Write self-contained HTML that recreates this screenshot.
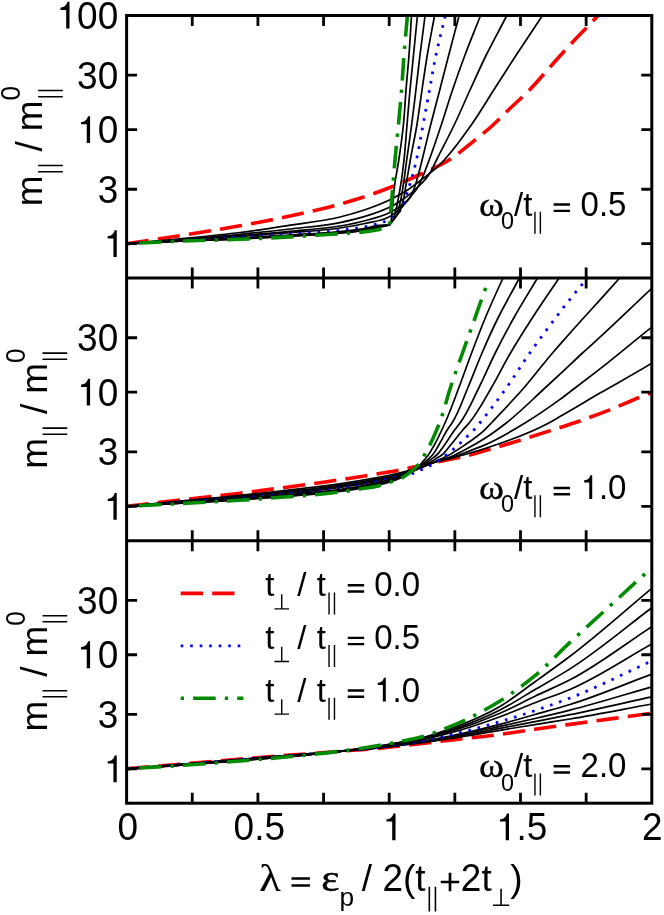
<!DOCTYPE html>
<html><head><meta charset="utf-8"><title>Effective mass</title>
<style>html,body{margin:0;padding:0;background:#fff}svg{display:block;will-change:transform}text{font-family:"Liberation Sans",sans-serif;fill:#000}.s{font-family:"Liberation Serif",serif}</style></head><body>
<svg width="664" height="915" viewBox="0 0 664 915">
<rect width="664" height="915" fill="#fff"/>
<defs>
<clipPath id="c0"><rect x="126.60" y="15.50" width="525.20" height="262.57"/></clipPath>
<clipPath id="c1"><rect x="126.60" y="278.07" width="525.20" height="262.57"/></clipPath>
<clipPath id="c2"><rect x="126.60" y="540.63" width="525.20" height="262.57"/></clipPath>
</defs>
<g clip-path="url(#c0)" fill="none" stroke-linejoin="round">
<path d="M126.60 243.70 C144.40 241.03 162.22 238.49 180.00 235.70 C200.02 232.56 220.05 229.41 240.00 225.80 C256.71 222.78 273.41 219.70 290.00 216.10 C306.75 212.47 323.50 208.71 340.00 204.10 C348.38 201.76 356.74 199.34 365.00 196.60 C373.41 193.81 381.75 190.75 390.00 187.50 C400.13 183.50 410.13 179.10 420.00 174.50 C429.79 169.93 439.90 165.75 449.00 160.00 C456.75 155.10 463.79 149.02 471.00 143.30 C478.47 137.37 485.95 131.42 493.00 125.00 C498.29 120.18 503.24 114.97 508.40 110.00 C515.38 103.28 522.74 96.94 529.50 90.00 C536.82 82.48 543.47 74.31 550.50 66.50 C557.73 58.47 564.94 50.42 572.30 42.50 C580.23 33.97 588.55 25.80 596.40 17.20 C598.28 15.14 600.13 13.07 602.00 11.00" stroke="#ff0000" stroke-width="3.6" stroke-dasharray="22.3 9.2"/>
<path d="M126.60 243.70 C144.40 242.07 162.21 240.54 180.00 238.80 C200.01 236.84 220.05 235.04 240.00 232.50 C256.71 230.37 273.36 227.78 290.00 225.20 C306.69 222.61 323.62 221.02 340.00 217.00 C348.41 214.94 356.81 212.60 365.00 209.80 C373.48 206.90 381.96 203.76 390.00 199.80 C393.01 198.32 395.97 196.74 398.90 195.10 C402.36 193.17 405.83 191.23 409.10 189.00 C411.58 187.31 413.90 185.40 416.30 183.60 C418.53 181.93 420.79 180.29 423.00 178.60 C427.41 175.23 431.91 171.94 436.00 168.20 C438.85 165.60 441.54 162.80 444.20 160.00 C454.33 149.32 462.77 137.05 471.25 125.00 C479.23 113.67 486.25 101.67 493.75 90.00 C501.25 78.33 508.66 66.61 516.25 55.00 C523.91 43.28 531.75 31.67 539.50 20.00 C541.27 17.33 543.04 14.67 544.81 12.00" stroke="#000" stroke-width="1.7"/>
<path d="M126.60 243.70 C144.40 242.30 162.21 240.97 180.00 239.50 C200.01 237.85 220.02 236.24 240.00 234.30 C256.68 232.68 273.35 230.95 290.00 229.00 C306.69 227.05 323.57 226.00 340.00 222.60 C348.40 220.86 356.81 218.94 365.00 216.40 C373.49 213.77 382.05 210.99 390.00 207.00 C391.34 206.32 392.68 205.63 394.00 204.90 C397.09 203.19 400.09 201.29 403.00 199.30 C405.50 197.59 407.97 195.83 410.30 193.90 C412.39 192.17 414.31 190.25 416.30 188.40 C418.08 186.75 419.83 185.07 421.60 183.40 L421.60 183.40 C423.27 181.60 425.09 179.92 426.60 178.00 C428.53 175.54 430.06 172.74 431.60 170.00 C433.41 166.77 434.86 163.33 436.50 160.00 C442.29 148.28 448.56 136.79 454.20 125.00 C459.72 113.45 464.67 101.64 470.00 90.00 C475.35 78.30 480.57 66.54 486.25 55.00 C492.06 43.20 498.42 31.67 504.50 20.00 C505.89 17.33 507.28 14.67 508.67 12.00" stroke="#000" stroke-width="1.7"/>
<path d="M126.60 243.70 C144.40 242.47 162.20 241.27 180.00 240.00 C200.00 238.58 220.01 237.20 240.00 235.60 C256.67 234.26 273.35 232.90 290.00 231.30 C306.68 229.70 323.51 228.90 340.00 226.00 C348.38 224.53 356.79 222.92 365.00 220.70 C373.46 218.41 382.21 216.42 390.00 212.40 C391.35 211.70 392.69 210.97 394.00 210.20 C397.15 208.36 400.31 206.43 403.10 204.10 C405.24 202.31 407.21 200.27 409.10 198.20 C410.46 196.72 411.70 195.14 413.00 193.60 C414.20 192.17 415.40 190.73 416.60 189.30 L416.60 189.30 C418.27 186.03 420.09 182.84 421.60 179.50 C423.00 176.40 424.16 173.18 425.40 170.00 C426.70 166.68 427.96 163.34 429.20 160.00 C433.50 148.44 437.35 136.71 441.25 125.00 C445.12 113.37 448.57 101.60 452.50 90.00 C456.48 78.27 460.65 66.60 465.00 55.00 C469.40 43.26 474.17 31.67 478.75 20.00 C479.80 17.33 480.85 14.67 481.89 12.00" stroke="#000" stroke-width="1.7"/>
<path d="M126.60 243.70 C144.40 242.60 162.20 241.54 180.00 240.40 C200.00 239.12 220.01 237.83 240.00 236.40 C256.67 235.20 273.34 234.00 290.00 232.60 C306.68 231.20 323.46 230.48 340.00 228.00 C348.37 226.74 356.76 225.40 365.00 223.50 C373.43 221.55 382.71 220.96 390.00 216.40 C391.37 215.54 392.67 214.54 394.00 213.60 C395.85 212.29 397.80 211.09 399.50 209.60 C401.32 208.01 402.87 206.10 404.50 204.30 C405.69 202.99 406.87 201.66 408.00 200.30 C408.96 199.15 409.87 197.97 410.80 196.80 L410.80 196.80 C411.73 194.53 412.74 192.29 413.60 190.00 C414.71 187.04 415.68 184.02 416.60 181.00 C417.71 177.37 418.64 173.68 419.60 170.00 C420.47 166.68 421.27 163.33 422.10 160.00 C424.99 148.35 427.67 136.64 430.60 125.00 C433.55 113.31 436.72 101.67 439.75 90.00 C442.77 78.34 445.71 66.66 448.75 55.00 C451.79 43.32 454.92 31.67 458.00 20.00 C458.70 17.33 459.41 14.67 460.11 12.00" stroke="#000" stroke-width="1.7"/>
<path d="M126.60 243.70 C144.40 242.70 162.20 241.72 180.00 240.70 C200.00 239.56 220.00 238.41 240.00 237.20 C256.67 236.19 273.34 235.23 290.00 234.10 C306.67 232.97 323.42 232.44 340.00 230.40 C348.73 229.32 357.49 228.28 366.10 226.50 C369.18 225.86 372.25 225.18 375.30 224.40 C378.35 223.62 381.55 223.07 384.40 221.80 C387.24 220.53 389.84 218.61 392.40 216.80 C393.97 215.69 395.51 214.51 397.00 213.30 C398.58 212.02 400.07 210.63 401.60 209.30 L401.60 209.30 C402.53 207.07 403.59 204.88 404.40 202.60 C405.45 199.64 406.00 196.51 406.90 193.50 C407.80 190.48 408.86 187.51 409.80 184.50 C410.76 181.44 411.73 178.38 412.60 175.30 C414.03 170.25 415.22 165.12 416.40 160.00 C419.06 148.43 420.82 136.67 423.00 125.00 C425.18 113.34 427.33 101.67 429.50 90.00 C431.67 78.33 433.56 66.61 436.00 55.00 C438.47 43.27 441.50 31.67 444.25 20.00 C444.88 17.33 445.51 14.67 446.14 12.00" stroke="#0000ff" stroke-width="2.8" stroke-dasharray="2.6 6.9" stroke-dashoffset="-1.3"/>
<path d="M126.60 243.70 C144.40 242.75 162.20 241.75 180.00 240.85 C200.00 239.84 220.01 239.08 240.00 238.00 C256.67 237.09 273.34 236.08 290.00 235.01 C306.67 233.94 323.39 233.35 340.00 231.58 C348.35 230.68 356.77 230.03 365.00 228.42 C369.36 227.57 373.61 225.95 378.00 225.40 C381.76 224.93 385.60 225.13 389.40 225.00 L389.40 225.00 C391.33 222.50 393.27 220.00 395.20 217.50 C396.67 215.60 398.13 213.70 399.60 211.80 L399.60 211.80 C400.60 208.87 401.74 205.97 402.60 203.00 C404.29 197.15 404.91 191.01 406.00 185.00 C407.51 176.68 408.81 168.32 410.30 160.00 C412.39 148.31 414.94 136.71 416.90 125.00 C418.84 113.37 420.27 101.66 422.00 90.00 C423.73 78.33 425.35 66.64 427.30 55.00 C429.26 43.30 431.60 31.67 433.75 20.00 C434.24 17.33 434.73 14.67 435.22 12.00" stroke="#000" stroke-width="1.7"/>
<path d="M126.60 243.70 C144.40 242.78 162.20 241.77 180.00 240.93 C200.00 239.99 220.01 239.44 240.00 238.42 C256.67 237.57 273.34 236.53 290.00 235.49 C306.67 234.46 323.39 233.88 340.00 232.20 C348.35 231.35 356.77 230.81 365.00 229.22 C369.36 228.38 373.62 226.92 378.00 226.20 C381.76 225.59 385.60 225.40 389.40 225.00 L389.40 225.00 C391.33 222.50 393.36 220.07 395.20 217.50 C395.67 216.84 396.13 216.17 396.60 215.50 L396.60 215.50 C397.60 212.00 398.72 208.53 399.60 205.00 C401.24 198.43 402.21 191.69 403.30 185.00 C404.65 176.70 405.55 168.33 406.70 160.00 C408.31 148.33 410.07 136.68 411.60 125.00 C413.13 113.35 414.50 101.67 415.90 90.00 C417.30 78.34 418.57 66.66 420.00 55.00 C421.43 43.33 423.00 31.67 424.50 20.00 C424.84 17.33 425.19 14.67 425.53 12.00" stroke="#000" stroke-width="1.7"/>
<path d="M126.60 243.70 C144.40 242.80 162.20 241.79 180.00 241.00 C199.99 240.12 220.01 239.74 240.00 238.78 C256.67 237.97 273.34 236.91 290.00 235.90 C306.67 234.89 323.38 234.33 340.00 232.72 C348.35 231.92 356.76 231.42 365.00 229.90 C369.36 229.10 373.65 227.86 378.00 227.00 C381.78 226.25 385.60 225.67 389.40 225.00 L389.40 225.00 L393.60 219.30 L393.60 219.30 C394.60 215.20 395.68 211.12 396.60 207.00 C398.22 199.72 399.52 192.36 400.70 185.00 C402.03 176.70 403.06 168.35 404.00 160.00 C405.31 148.37 406.00 136.67 407.00 125.00 C408.00 113.33 408.92 101.66 410.00 90.00 C411.08 78.33 412.33 66.67 413.50 55.00 C414.67 43.33 415.83 31.67 417.00 20.00 C417.27 17.33 417.53 14.67 417.80 12.00" stroke="#000" stroke-width="1.7"/>
<path d="M126.60 243.70 C144.40 242.82 162.19 241.80 180.00 241.06 C199.99 240.23 220.01 240.01 240.00 239.09 C256.67 238.33 273.34 237.24 290.00 236.26 C306.67 235.28 323.38 234.72 340.00 233.19 C348.34 232.42 356.76 231.96 365.00 230.50 C369.36 229.73 373.68 228.68 378.00 227.70 C381.81 226.84 385.60 225.90 389.40 225.00 L389.40 225.00 L391.00 222.80 L391.00 222.80 C391.40 218.53 391.79 214.27 392.20 210.00 C393.00 201.66 393.61 193.30 394.70 185.00 C395.80 176.63 397.54 168.35 398.80 160.00 C400.55 148.37 402.20 136.70 403.40 125.00 C404.59 113.37 405.07 101.66 406.00 90.00 C406.93 78.33 408.12 66.68 409.00 55.00 C409.87 43.34 410.50 31.67 411.25 20.00 C411.42 17.33 411.59 14.67 411.76 12.00" stroke="#000" stroke-width="1.7"/>
<path d="M126.60 243.70 C144.40 242.83 162.19 241.81 180.00 241.10 C199.99 240.30 220.01 240.10 240.00 239.30 C256.67 238.64 273.34 237.86 290.00 236.90 C298.50 236.41 307.00 235.84 315.50 235.30 C322.83 234.84 330.17 234.40 337.50 233.90 C344.80 233.40 352.12 233.04 359.40 232.30 C363.61 231.87 367.83 231.49 372.00 230.80 C375.02 230.30 378.10 229.94 381.00 229.00 C382.70 228.45 384.42 227.83 386.00 227.00 C387.22 226.36 388.33 225.53 389.50 224.80 L389.50 224.80 C389.83 221.07 390.17 217.33 390.50 213.60 C391.14 206.33 391.78 199.07 392.40 191.80 C393.30 181.20 394.06 170.59 395.00 160.00 C396.04 148.32 397.30 136.67 398.40 125.00 C399.50 113.34 400.67 101.68 401.60 90.00 C402.53 78.34 403.10 66.66 404.00 55.00 C404.90 43.33 406.00 31.67 407.00 20.00 C407.23 17.33 407.46 14.67 407.69 12.00" stroke="#008b00" stroke-width="3.6" stroke-dasharray="3.3 9.1 22.6 9.1"/>
</g>
<g clip-path="url(#c1)" fill="none" stroke-linejoin="round">
<path d="M126.60 506.30 C151.07 503.43 175.52 500.49 200.00 497.70 C213.33 496.18 226.68 494.80 240.00 493.20 C253.35 491.60 266.67 489.85 280.00 488.10 C293.34 486.35 306.68 484.60 320.00 482.70 C333.35 480.80 346.68 478.81 360.00 476.70 C373.35 474.58 386.74 472.59 400.00 470.00 C411.72 467.71 423.32 464.82 435.00 462.30 C446.82 459.75 458.78 457.77 470.50 454.80 C480.15 452.35 489.65 449.32 499.20 446.50 C506.21 444.43 513.21 442.35 520.20 440.20 C530.30 437.10 540.35 433.85 550.40 430.60 C560.45 427.35 570.53 424.19 580.50 420.70 C590.09 417.34 599.64 413.82 609.10 410.10 C619.22 406.12 629.09 401.52 639.20 397.50 C643.39 395.84 647.59 394.21 651.80 392.60 C653.20 392.06 654.60 391.53 656.00 391.00" stroke="#ff0000" stroke-width="3.6" stroke-dasharray="22.3 9.2"/>
<path d="M126.60 506.30 C151.07 503.94 175.53 501.54 200.00 499.22 C213.33 497.95 226.68 496.81 240.00 495.45 C253.34 494.08 266.67 492.52 280.00 491.01 C293.34 489.50 306.69 488.10 320.00 486.37 C333.36 484.63 346.72 482.85 360.00 480.59 C373.39 478.31 386.78 475.83 400.00 472.71 C407.03 471.05 414.11 469.48 421.00 467.30 C425.72 465.81 430.26 463.73 435.00 462.30 C439.92 460.81 445.02 459.90 450.00 458.60 C455.02 457.30 460.02 455.92 465.00 454.50 C471.69 452.59 478.38 450.64 485.00 448.50 C506.77 441.47 528.64 433.87 548.75 423.00 C552.54 420.95 556.26 418.74 560.00 416.60 C573.42 408.91 586.64 400.89 600.00 393.10 C617.22 383.06 634.82 373.65 651.80 363.20 C653.20 362.34 654.60 361.47 656.00 360.60" stroke="#000" stroke-width="1.7"/>
<path d="M126.60 506.30 C151.07 504.15 175.53 501.98 200.00 499.85 C213.33 498.68 226.68 497.65 240.00 496.38 C253.34 495.10 266.67 493.63 280.00 492.21 C293.34 490.80 306.69 489.55 320.00 487.89 C333.36 486.22 346.74 484.53 360.00 482.20 C373.41 479.85 386.87 477.40 400.00 473.83 C407.06 471.91 414.08 469.78 421.00 467.40 C425.70 465.78 430.27 463.74 435.00 462.20 C439.93 460.59 445.05 459.56 450.00 458.00 C455.05 456.40 460.03 454.53 465.00 452.70 C471.71 450.22 478.46 447.77 485.00 444.90 C498.90 438.81 512.05 430.92 525.00 423.00 C536.99 415.67 548.65 407.71 560.00 399.40 C565.06 395.69 570.01 391.81 575.00 388.00 C583.35 381.63 591.71 375.26 600.00 368.80 C617.48 355.17 634.38 340.81 651.80 327.10 C653.20 326.00 654.60 324.90 656.00 323.80" stroke="#000" stroke-width="1.7"/>
<path d="M126.60 506.30 C151.07 504.31 175.53 502.31 200.00 500.33 C213.33 499.25 226.68 498.29 240.00 497.09 C253.34 495.89 266.67 494.48 280.00 493.14 C293.34 491.80 306.70 490.67 320.00 489.05 C333.36 487.43 346.76 485.81 360.00 483.44 C373.43 481.03 386.94 478.58 400.00 474.69 C407.08 472.58 414.07 470.08 421.00 467.50 C425.70 465.75 430.29 463.71 435.00 462.00 C439.95 460.20 445.13 458.98 450.00 457.00 C455.14 454.91 460.07 452.27 465.00 449.70 C471.80 446.16 478.54 442.42 485.00 438.30 C492.35 433.61 499.37 428.35 506.25 423.00 C519.97 412.33 532.16 399.75 545.00 388.00 C550.01 383.41 555.02 378.82 560.00 374.20 C567.55 367.19 574.92 359.98 582.50 353.00 C588.28 347.68 594.19 342.50 600.00 337.20 C617.52 321.21 634.43 304.55 651.80 288.40 C653.20 287.10 654.60 285.80 656.00 284.50" stroke="#000" stroke-width="1.7"/>
<path d="M126.60 506.30 C151.07 504.45 175.53 502.60 200.00 500.74 C213.33 499.72 226.68 498.83 240.00 497.69 C253.34 496.55 266.67 495.19 280.00 493.92 C293.34 492.64 306.70 491.60 320.00 490.04 C333.37 488.46 346.77 486.89 360.00 484.48 C373.44 482.03 387.00 479.57 400.00 475.42 C407.10 473.15 414.08 470.41 421.00 467.60 C425.70 465.69 430.38 463.69 435.00 461.60 C440.05 459.31 445.15 457.07 450.00 454.40 C455.17 451.55 460.12 448.24 465.00 444.90 C471.92 440.16 478.99 435.43 485.00 429.60 C487.17 427.50 489.17 425.20 491.25 423.00 C502.18 411.42 513.29 399.99 523.75 388.00 C533.67 376.63 542.65 364.44 552.50 353.00 C554.98 350.12 557.49 347.26 560.00 344.40 C567.77 335.54 575.61 326.74 583.50 318.00 C588.97 311.94 594.52 305.95 600.00 299.90 C606.53 292.69 613.00 285.44 619.50 278.20 C620.67 276.90 621.83 275.60 623.00 274.30" stroke="#000" stroke-width="1.7"/>
<path d="M126.60 506.30 C151.07 504.56 175.53 502.84 200.00 501.09 C213.33 500.14 226.68 499.30 240.00 498.22 C253.34 497.14 266.67 495.82 280.00 494.61 C293.33 493.39 306.70 492.43 320.00 490.90 C333.37 489.37 346.78 487.84 360.00 485.40 C373.45 482.91 386.61 478.91 400.00 476.06 C403.96 475.22 408.05 474.81 411.90 473.60 C414.94 472.64 417.87 471.28 420.80 470.00 C423.77 468.71 426.76 467.43 429.60 465.90 C432.39 464.40 435.06 462.65 437.70 460.90 C440.39 459.12 443.00 457.21 445.60 455.30 C448.20 453.38 450.82 451.47 453.30 449.40 C455.71 447.39 458.01 445.24 460.30 443.10 C462.64 440.91 464.89 438.62 467.20 436.40 C469.32 434.36 471.58 432.44 473.60 430.30 C475.78 427.99 477.72 425.45 479.75 423.00 C489.07 411.72 497.76 399.91 506.25 388.00 C514.40 376.56 521.67 364.50 529.75 353.00 C538.07 341.15 546.81 329.59 555.50 318.00 C558.36 314.19 561.18 310.36 564.10 306.60 C568.04 301.53 572.12 296.57 576.20 291.60 C578.62 288.65 581.07 285.73 583.50 282.80" stroke="#0000ff" stroke-width="2.8" stroke-dasharray="2.6 6.9" stroke-dashoffset="-2.3"/>
<path d="M126.60 506.30 C151.07 504.67 175.53 503.07 200.00 501.42 C213.33 500.52 226.68 499.73 240.00 498.70 C253.34 497.67 266.67 496.40 280.00 495.23 C293.33 494.06 306.70 493.18 320.00 491.69 C333.37 490.18 346.79 488.70 360.00 486.23 C373.46 483.71 387.15 481.28 400.00 476.64 C407.85 473.80 415.65 470.50 423.00 466.50 C427.17 464.23 431.15 461.59 435.20 459.10 C437.41 457.74 439.78 456.58 441.80 455.00 C445.26 452.29 447.72 448.38 450.60 445.00 C454.78 440.10 458.57 434.86 462.80 430.00 C464.86 427.63 467.08 425.39 469.10 423.00 C477.99 412.48 484.24 399.89 491.25 388.00 C498.01 376.54 503.78 364.49 510.50 353.00 C517.43 341.15 524.80 329.54 532.25 318.00 C539.87 306.20 547.87 294.63 555.75 283.00 C557.33 280.67 558.92 278.33 560.50 276.00" stroke="#000" stroke-width="1.7"/>
<path d="M126.60 506.30 C151.07 504.77 175.54 503.27 200.00 501.72 C213.33 500.87 226.68 500.13 240.00 499.14 C253.34 498.15 266.67 496.92 280.00 495.80 C293.33 494.67 306.70 493.87 320.00 492.41 C333.37 490.94 346.80 489.49 360.00 486.99 C373.47 484.44 387.35 482.28 400.00 477.17 C407.58 474.10 415.16 470.52 422.00 466.00 C425.21 463.88 428.22 461.42 431.30 459.10 C433.11 457.74 435.04 456.51 436.70 455.00 C439.80 452.17 442.00 448.40 444.50 445.00 C448.07 440.15 451.02 434.85 454.60 430.00 C456.35 427.63 458.27 425.38 460.00 423.00 C467.75 412.30 472.81 399.82 478.75 388.00 C484.54 376.48 489.49 364.54 495.25 353.00 C501.14 341.20 507.31 329.51 513.75 318.00 C520.37 306.17 527.53 294.64 534.50 283.00 C535.90 280.67 537.30 278.33 538.70 276.00" stroke="#000" stroke-width="1.7"/>
<path d="M126.60 506.30 C151.07 504.86 175.54 503.47 200.00 501.99 C213.33 501.19 226.68 500.49 240.00 499.55 C253.34 498.61 266.67 497.41 280.00 496.33 C293.33 495.25 306.70 494.51 320.00 493.08 C333.37 491.64 346.81 490.23 360.00 487.70 C373.48 485.12 387.56 483.21 400.00 477.66 C407.31 474.40 414.69 470.58 421.00 465.60 C423.55 463.59 425.93 461.33 428.30 459.10 C429.72 457.76 431.22 456.46 432.50 455.00 C435.08 452.06 436.77 448.38 438.80 445.00 C441.75 440.09 444.10 434.82 447.20 430.00 C448.73 427.62 450.48 425.38 452.00 423.00 C458.88 412.25 462.71 399.76 467.75 388.00 C472.71 376.42 477.01 364.56 482.00 353.00 C487.08 341.23 492.31 329.49 498.00 318.00 C503.87 306.15 510.50 294.67 516.75 283.00 C518.00 280.67 519.25 278.33 520.50 276.00" stroke="#000" stroke-width="1.7"/>
<path d="M126.60 506.30 C151.07 504.95 175.54 503.65 200.00 502.25 C213.33 501.49 226.68 500.84 240.00 499.94 C253.34 499.03 266.67 497.87 280.00 496.83 C293.33 495.79 306.70 495.11 320.00 493.70 C333.37 492.29 346.82 490.92 360.00 488.37 C373.49 485.76 387.82 484.16 400.00 478.13 C407.05 474.63 414.48 470.67 420.00 465.00 C421.79 463.17 423.36 461.09 425.00 459.10 C426.11 457.74 427.26 456.41 428.30 455.00 C430.60 451.88 432.41 448.39 434.30 445.00 C437.02 440.12 439.42 435.06 441.80 430.00 C442.89 427.68 443.96 425.34 445.00 423.00 C450.10 411.55 454.30 399.72 458.75 388.00 C463.16 376.38 467.20 364.62 471.60 353.00 C476.03 341.29 480.44 329.56 485.25 318.00 C490.15 306.22 495.41 294.59 500.75 283.00 C501.83 280.66 502.92 278.33 504.00 276.00" stroke="#000" stroke-width="1.7"/>
<path d="M126.60 506.30 C151.07 505.03 175.54 503.82 200.00 502.50 C213.33 501.78 226.68 501.17 240.00 500.30 C253.34 499.43 266.67 498.30 280.00 497.30 C293.33 496.30 306.71 495.68 320.00 494.30 C333.37 492.91 346.76 491.30 360.00 489.00 C368.37 487.55 376.92 486.58 385.00 484.00 C387.02 483.36 389.00 482.61 391.00 481.90 C394.62 480.61 398.41 479.65 401.80 477.90 C405.06 476.22 408.13 474.01 411.00 471.70 C413.48 469.71 415.95 467.60 418.00 465.20 C420.63 462.12 422.45 458.33 424.50 454.80 C426.62 451.14 428.62 447.39 430.50 443.60 C432.70 439.15 434.65 434.57 436.60 430.00 C437.59 427.68 438.57 425.35 439.50 423.00 C443.99 411.65 446.49 399.60 450.30 388.00 C454.15 376.26 458.39 364.65 462.50 353.00 C466.62 341.32 470.88 329.68 475.00 318.00 C477.11 312.00 479.16 305.99 481.30 300.00 C482.85 295.66 484.43 291.33 486.00 287.00" stroke="#008b00" stroke-width="3.6" stroke-dasharray="3.3 9.1 22.6 9.1"/>
</g>
<g clip-path="url(#c2)" fill="none" stroke-linejoin="round">
<path d="M126.60 768.80 C147.73 767.00 168.87 765.19 190.00 763.40 C213.33 761.42 236.66 759.39 260.00 757.50 C286.66 755.34 313.33 753.37 340.00 751.30 C353.33 750.27 366.69 749.52 380.00 748.20 C386.67 747.54 393.34 746.75 400.00 746.00 C406.67 745.25 413.33 744.47 420.00 743.70 C430.00 742.54 440.00 741.36 450.00 740.20 C466.67 738.26 483.37 736.65 500.00 734.40 C511.69 732.82 523.32 730.87 535.00 729.20 C546.66 727.53 558.33 726.00 570.00 724.40 C597.27 720.66 624.55 717.08 651.80 713.20 C653.20 713.00 654.60 712.80 656.00 712.60" stroke="#ff0000" stroke-width="3.6" stroke-dasharray="22.3 9.2"/>
<path d="M126.60 768.80 C147.73 767.06 168.87 765.33 190.00 763.57 C213.33 761.64 236.66 759.64 260.00 757.72 C286.66 755.53 313.34 753.55 340.00 751.30 C353.34 750.18 366.70 749.29 380.00 747.84 C386.67 747.12 393.34 746.27 400.00 745.45 C406.67 744.63 413.34 743.81 420.00 742.91 C430.02 741.57 440.01 740.07 450.00 738.54 C466.70 735.99 483.33 733.03 500.00 730.30 C511.67 728.39 523.33 726.48 535.00 724.60 C546.66 722.72 558.35 720.95 570.00 719.00 C597.34 714.43 624.53 709.00 651.80 704.00 C653.20 703.74 654.60 703.49 656.00 703.23" stroke="#000" stroke-width="1.7"/>
<path d="M126.60 768.80 C147.73 767.09 168.87 765.39 190.00 763.66 C213.34 761.74 236.67 759.75 260.00 757.83 C286.66 755.63 313.35 753.64 340.00 751.30 C353.34 750.13 366.70 749.18 380.00 747.67 C386.67 746.91 393.34 746.03 400.00 745.18 C406.67 744.32 413.34 743.49 420.00 742.53 C430.02 741.09 440.02 739.44 450.00 737.73 C466.72 734.88 483.33 731.44 500.00 728.30 C511.67 726.10 523.35 723.96 535.00 721.70 C546.68 719.43 558.35 717.10 570.00 714.70 C597.34 709.08 624.53 702.77 651.80 696.80 C653.20 696.49 654.60 696.19 656.00 695.88" stroke="#000" stroke-width="1.7"/>
<path d="M126.60 768.80 C147.73 767.11 168.87 765.46 190.00 763.74 C213.34 761.84 236.67 759.87 260.00 757.94 C286.67 755.73 313.35 753.73 340.00 751.30 C353.34 750.09 366.70 749.06 380.00 747.50 C386.68 746.71 393.34 745.80 400.00 744.91 C406.67 744.02 413.35 743.16 420.00 742.15 C430.03 740.62 440.03 738.80 450.00 736.93 C466.74 733.77 483.35 729.94 500.00 726.30 C511.68 723.75 523.36 721.19 535.00 718.50 C546.69 715.80 558.37 713.04 570.00 710.10 C597.48 703.14 624.53 694.57 651.80 686.80 C653.20 686.40 654.60 686.00 656.00 685.60" stroke="#000" stroke-width="1.7"/>
<path d="M126.60 768.80 C147.73 767.14 168.87 765.52 190.00 763.82 C213.34 761.94 236.67 759.98 260.00 758.04 C286.67 755.82 313.36 753.81 340.00 751.30 C353.34 750.04 366.70 748.96 380.00 747.33 C386.68 746.52 393.34 745.58 400.00 744.65 C406.67 743.73 413.35 742.85 420.00 741.78 C430.04 740.17 440.04 738.20 450.00 736.16 C466.77 732.72 483.45 728.75 500.00 724.40 C511.72 721.32 523.34 717.82 535.00 714.50 C546.67 711.18 558.42 708.10 570.00 704.50 C597.76 695.88 624.53 684.23 651.80 674.10 C653.20 673.58 654.60 673.06 656.00 672.54" stroke="#000" stroke-width="1.7"/>
<path d="M126.60 768.80 C147.73 767.18 168.87 765.61 190.00 763.94 C213.34 762.09 236.67 760.15 260.00 758.19 C286.67 755.95 313.37 753.93 340.00 751.30 C353.34 749.98 366.70 748.80 380.00 747.09 C386.68 746.23 393.34 745.25 400.00 744.28 C406.67 743.30 413.36 742.40 420.00 741.25 C430.06 739.50 440.05 737.31 450.00 735.03 C466.81 731.16 483.45 726.48 500.00 721.60 C511.73 718.14 523.41 714.50 535.00 710.60 C546.75 706.64 558.44 702.47 570.00 698.00 C597.91 687.21 624.53 673.27 651.80 660.90 C653.20 660.27 654.60 659.63 656.00 659.00" stroke="#0000ff" stroke-width="2.8" stroke-dasharray="2.6 6.9" stroke-dashoffset="-2.3"/>
<path d="M126.60 768.80 C147.73 767.25 168.87 765.77 190.00 764.14 C213.34 762.34 236.67 760.44 260.00 758.45 C286.68 756.18 313.38 754.15 340.00 751.30 C353.35 749.87 366.71 748.53 380.00 746.66 C386.68 745.73 393.34 744.67 400.00 743.62 C406.67 742.56 413.37 741.60 420.00 740.31 C430.09 738.34 440.08 735.75 450.00 733.05 C466.90 728.43 483.56 722.77 500.00 716.70 C511.78 712.35 523.29 707.25 535.00 702.70 C546.62 698.19 558.55 694.37 570.00 689.50 C598.64 677.30 624.53 659.17 651.80 644.00 C653.20 643.22 654.60 642.44 656.00 641.66" stroke="#000" stroke-width="1.7"/>
<path d="M126.60 768.80 C147.73 767.29 168.87 765.88 190.00 764.28 C213.34 762.52 236.68 760.64 260.00 758.64 C286.68 756.35 313.39 754.30 340.00 751.30 C353.35 749.80 366.71 748.34 380.00 746.37 C386.68 745.38 393.34 744.27 400.00 743.16 C406.67 742.04 413.38 741.05 420.00 739.66 C430.12 737.53 440.11 734.67 450.00 731.67 C466.98 726.53 483.75 720.39 500.00 713.30 C511.89 708.12 523.29 701.80 535.00 696.20 C546.62 690.64 558.58 685.71 570.00 679.80 C598.83 664.88 624.53 644.33 651.80 626.60 C653.20 625.69 654.60 624.78 656.00 623.87" stroke="#000" stroke-width="1.7"/>
<path d="M126.60 768.80 C147.73 767.34 168.87 765.99 190.00 764.42 C213.34 762.69 236.68 760.83 260.00 758.81 C286.68 756.51 313.41 754.44 340.00 751.30 C353.35 749.72 366.72 748.15 380.00 746.08 C386.68 745.04 393.34 743.89 400.00 742.71 C406.68 741.53 413.39 740.51 420.00 739.02 C430.14 736.74 440.13 733.61 450.00 730.34 C467.06 724.68 483.97 718.08 500.00 710.00 C512.03 703.93 523.36 696.44 535.00 689.60 C546.69 682.74 558.56 676.15 570.00 668.90 C598.72 650.71 624.53 628.17 651.80 607.80 C653.20 606.75 654.60 605.71 656.00 604.66" stroke="#000" stroke-width="1.7"/>
<path d="M126.60 768.80 C147.73 767.39 168.88 766.11 190.00 764.57 C213.34 762.88 236.68 761.05 260.00 759.01 C286.69 756.68 313.42 754.60 340.00 751.30 C353.36 749.64 366.72 747.95 380.00 745.77 C386.68 744.67 393.34 743.46 400.00 742.23 C406.68 740.99 413.41 739.92 420.00 738.33 C430.18 735.88 440.16 732.45 450.00 728.88 C467.15 722.66 484.30 715.59 500.00 706.40 C512.25 699.23 523.40 690.10 535.00 681.80 C546.74 673.40 558.50 665.01 570.00 656.30 C598.24 634.92 624.53 611.03 651.80 588.40 C653.20 587.24 654.60 586.08 656.00 584.91" stroke="#000" stroke-width="1.7"/>
<path d="M126.60 768.80 C147.73 767.47 168.88 766.29 190.00 764.80 C213.35 763.16 236.68 761.34 260.00 759.30 C273.34 758.13 286.68 756.93 300.00 755.60 C313.34 754.27 326.70 753.01 340.00 751.30 C353.37 749.58 366.73 747.64 380.00 745.30 C386.68 744.12 393.35 742.83 400.00 741.50 C406.68 740.16 413.43 739.04 420.00 737.30 C430.23 734.59 440.21 730.71 450.00 726.70 C467.31 719.62 484.18 710.95 500.00 701.00 C512.17 693.35 523.90 684.75 535.00 675.60 C547.38 665.39 558.23 653.35 570.00 642.40 C581.04 632.13 592.28 622.08 603.40 611.90 C614.21 602.01 624.98 592.08 635.80 582.20 C638.87 579.40 641.93 576.60 645.00 573.80" stroke="#008b00" stroke-width="3.6" stroke-dasharray="3.3 9.1 22.6 9.1"/>
</g>
<g stroke="#000" stroke-width="3" fill="none">
<rect x="126.60" y="15.50" width="525.20" height="787.70"/>
<path d="M126.60 278.07H651.80"/>
<path d="M126.60 540.63H651.80"/>
<path d="M192.25 15.50v10.5M192.25 267.57v21.0M192.25 530.13v21.0M192.25 803.20v-10.5M257.90 15.50v10.5M257.90 267.57v21.0M257.90 530.13v21.0M257.90 803.20v-10.5M323.55 15.50v10.5M323.55 267.57v21.0M323.55 530.13v21.0M323.55 803.20v-10.5M389.20 15.50v10.5M389.20 267.57v21.0M389.20 530.13v21.0M389.20 803.20v-10.5M454.85 15.50v10.5M454.85 267.57v21.0M454.85 530.13v21.0M454.85 803.20v-10.5M520.50 15.50v10.5M520.50 267.57v21.0M520.50 530.13v21.0M520.50 803.20v-10.5M586.15 15.50v10.5M586.15 267.57v21.0M586.15 530.13v21.0M586.15 803.20v-10.5M126.60 243.72h10.5M651.80 243.72h-10.5M126.60 189.27h10.5M651.80 189.27h-10.5M126.60 129.61h10.5M651.80 129.61h-10.5M126.60 75.16h10.5M651.80 75.16h-10.5M126.60 506.28h10.5M651.80 506.28h-10.5M126.60 451.84h10.5M651.80 451.84h-10.5M126.60 392.17h10.5M651.80 392.17h-10.5M126.60 337.73h10.5M651.80 337.73h-10.5M126.60 768.85h10.5M651.80 768.85h-10.5M126.60 714.41h10.5M651.80 714.41h-10.5M126.60 654.74h10.5M651.80 654.74h-10.5M126.60 600.30h10.5M651.80 600.30h-10.5" stroke-width="2.8"/>
</g>
<g>
<path d="M69.51 28.59L66.18 28.59L66.18 9.91L60.48 9.91L60.48 7.58C63.88 7.43 66.47 5.84 67.40 1.81L69.51 1.81Z" fill="#000"/><text transform="translate(77.06 28.59) scale(1 1.045)" font-size="37.0">00</text>
<text transform="translate(77.06 88.56) scale(1 1.045)" font-size="37.0">30</text>
<path d="M90.08 143.00L86.75 143.00L86.75 124.32L81.05 124.32L81.05 121.99C84.46 121.84 87.05 120.25 87.97 116.21L90.08 116.21Z" fill="#000"/><text transform="translate(97.63 143.00) scale(1 1.045)" font-size="37.0">0</text>
<text transform="translate(97.63 202.67) scale(1 1.045)" font-size="37.0">3</text>
<path d="M116.75 257.11L113.42 257.11L113.42 238.43L107.72 238.43L107.72 236.09C111.13 235.95 113.72 234.36 114.64 230.32L116.75 230.32Z" fill="#000"/>
<text transform="translate(77.06 351.13) scale(1 1.045)" font-size="37.0">30</text>
<path d="M90.08 405.57L86.75 405.57L86.75 386.88L81.05 386.88L81.05 384.55C84.46 384.40 87.05 382.81 87.97 378.78L90.08 378.78Z" fill="#000"/><text transform="translate(97.63 405.57) scale(1 1.045)" font-size="37.0">0</text>
<text transform="translate(97.63 465.23) scale(1 1.045)" font-size="37.0">3</text>
<path d="M116.75 519.68L113.42 519.68L113.42 500.99L107.72 500.99L107.72 498.66C111.13 498.51 113.72 496.92 114.64 492.89L116.75 492.89Z" fill="#000"/>
<text transform="translate(77.06 613.69) scale(1 1.045)" font-size="37.0">30</text>
<path d="M90.08 668.14L86.75 668.14L86.75 649.45L81.05 649.45L81.05 647.12C84.46 646.97 87.05 645.38 87.97 641.35L90.08 641.35Z" fill="#000"/><text transform="translate(97.63 668.14) scale(1 1.045)" font-size="37.0">0</text>
<text transform="translate(97.63 727.80) scale(1 1.045)" font-size="37.0">3</text>
<path d="M116.75 782.24L113.42 782.24L113.42 763.56L107.72 763.56L107.72 761.23C111.13 761.08 113.72 759.49 114.64 755.46L116.75 755.46Z" fill="#000"/>
<text transform="translate(117.41 840.20) scale(1 1.045)" font-size="37.0">0</text>
<text transform="translate(233.58 840.20) scale(1 1.045)" font-size="37.0">0.5</text>
<path d="M395.54 840.20L392.21 840.20L392.21 821.52L386.51 821.52L386.51 819.18C389.91 819.04 392.50 817.45 393.43 813.41L395.54 813.41Z" fill="#000"/>
<path d="M509.01 840.20L505.68 840.20L505.68 821.52L499.98 821.52L499.98 819.18C503.38 819.04 505.98 817.45 506.90 813.41L509.01 813.41Z" fill="#000"/><text transform="translate(516.56 840.20) scale(1 1.045)" font-size="37.0">.5</text>
<text transform="translate(642.11 840.20) scale(1 1.045)" font-size="37.0">2</text>
</g>
<g transform="translate(42.3 206.30) rotate(-90)"><text x="0" y="0" font-size="37">m</text><path d="M34.62 -4.20V20.52M40.72 -4.20V20.52" stroke="#000" stroke-width="1.58" fill="none"/><text x="54.8" y="0" font-size="37">/</text><text x="75.0" y="0" font-size="37">m</text><path d="M109.62 -4.20V20.52M115.72 -4.20V20.52" stroke="#000" stroke-width="1.58" fill="none"/><text transform="translate(105.80 -21.90) scale(1 1.045)" font-size="26.3">0</text></g>
<g transform="translate(46.7 468.87) rotate(-90)"><text x="0" y="0" font-size="37">m</text><path d="M34.62 -4.20V20.52M40.72 -4.20V20.52" stroke="#000" stroke-width="1.58" fill="none"/><text x="54.8" y="0" font-size="37">/</text><text x="75.0" y="0" font-size="37">m</text><path d="M109.62 -4.20V20.52M115.72 -4.20V20.52" stroke="#000" stroke-width="1.58" fill="none"/><text transform="translate(105.80 -21.90) scale(1 1.045)" font-size="26.3">0</text></g>
<g transform="translate(46.7 731.43) rotate(-90)"><text x="0" y="0" font-size="37">m</text><path d="M34.62 -4.20V20.52M40.72 -4.20V20.52" stroke="#000" stroke-width="1.58" fill="none"/><text x="54.8" y="0" font-size="37">/</text><text x="75.0" y="0" font-size="37">m</text><path d="M109.62 -4.20V20.52M115.72 -4.20V20.52" stroke="#000" stroke-width="1.58" fill="none"/><text transform="translate(105.80 -21.90) scale(1 1.045)" font-size="26.3">0</text></g>
<g><text class="s" transform="translate(259.3 891.0) scale(1.2 1)" font-size="37" stroke="#000" stroke-width="0.15">λ</text><path d="M291.49 885.52H309.92M291.49 878.49H309.92" stroke="#000" stroke-width="2.66" fill="none"/><text class="s" transform="translate(321.3 891.0) scale(1.17 1.02)" font-size="37" stroke="#000" stroke-width="0.5">ε</text><text x="339.6" y="906.0" font-size="26.3">p</text><text x="361.8" y="891.0" font-size="37">/</text><text transform="translate(382.40 891.00) scale(1 1.045)" font-size="37.0">2</text><text x="402.98" y="891.0" font-size="37">(t</text><path d="M429.32 886.80V911.52M435.42 886.80V911.52" stroke="#000" stroke-width="1.58" fill="none"/><path d="M440.75 882.01H459.25M450.00 872.76V891.26" stroke="#000" stroke-width="2.66" fill="none"/><text transform="translate(460.80 891.00) scale(1 1.045)" font-size="37.0">2</text><text x="481.4" y="891.0" font-size="37">t</text><path d="M492.93 905.21H509.23M501.08 905.21V888.64" stroke="#000" stroke-width="1.58" fill="none"/><text x="510.2" y="891.0" font-size="37">)</text></g>
<g><text class="s" transform="translate(478.9 215.70) scale(1.15 1.02)" font-size="33" stroke="#000" stroke-width="0.3">ω</text><text transform="translate(501.00 228.90) scale(1 1.045)" font-size="23.4">0</text><text x="514.0" y="215.70" font-size="33">/t</text><path d="M534.94 211.82V233.81M540.37 211.82V233.81" stroke="#000" stroke-width="1.40" fill="none"/><path d="M553.62 210.82H570.05M553.62 204.55H570.05" stroke="#000" stroke-width="2.38" fill="none"/><text transform="translate(580.60 215.70) scale(1 1.045)" font-size="33.0">0.5</text></g>
<g><text class="s" transform="translate(478.9 499.10) scale(1.15 1.02)" font-size="33" stroke="#000" stroke-width="0.3">ω</text><text transform="translate(501.00 512.30) scale(1 1.045)" font-size="23.4">0</text><text x="514.0" y="499.10" font-size="33">/t</text><path d="M534.94 495.22V517.21M540.37 495.22V517.21" stroke="#000" stroke-width="1.40" fill="none"/><path d="M553.62 494.22H570.05M553.62 487.95H570.05" stroke="#000" stroke-width="2.38" fill="none"/><path d="M592.22 499.10L589.25 499.10L589.25 482.44L584.16 482.44L584.16 480.36C587.20 480.22 589.51 478.81 590.34 475.21L592.22 475.21Z" fill="#000"/><text transform="translate(598.95 499.10) scale(1 1.045)" font-size="33.0">.0</text></g>
<g><text class="s" transform="translate(478.9 777.40) scale(1.15 1.02)" font-size="33" stroke="#000" stroke-width="0.3">ω</text><text transform="translate(501.00 790.60) scale(1 1.045)" font-size="23.4">0</text><text x="514.0" y="777.40" font-size="33">/t</text><path d="M534.94 773.52V795.51M540.37 773.52V795.51" stroke="#000" stroke-width="1.40" fill="none"/><path d="M553.62 772.52H570.05M553.62 766.25H570.05" stroke="#000" stroke-width="2.38" fill="none"/><text transform="translate(580.60 777.40) scale(1 1.045)" font-size="33.0">2.0</text></g>
<path d="M180.7 593.40H243.4" fill="none" stroke="#ff0000" stroke-width="3.6" stroke-dasharray="22.3 9.2"/>
<g><text x="265.3" y="596.40" font-size="33">t</text><path d="M274.47 608.90H288.98M281.72 608.90V594.16" stroke="#000" stroke-width="1.40" fill="none"/><text x="297.2" y="596.40" font-size="33">/</text><text x="316.7" y="596.40" font-size="33">t</text><path d="M329.04 592.52V614.51M334.47 592.52V614.51" stroke="#000" stroke-width="1.40" fill="none"/><path d="M347.72 591.52H364.15M347.72 585.25H364.15" stroke="#000" stroke-width="2.38" fill="none"/><text transform="translate(374.20 596.40) scale(1 1.045)" font-size="33.0">0.0</text></g>
<path d="M180.7 645.90H243.4" fill="none" stroke="#0000ff" stroke-width="2.8" stroke-dasharray="2.6 6.9"/>
<g><text x="265.3" y="649.00" font-size="33">t</text><path d="M274.47 661.50H288.98M281.72 661.50V646.76" stroke="#000" stroke-width="1.40" fill="none"/><text x="297.2" y="649.00" font-size="33">/</text><text x="316.7" y="649.00" font-size="33">t</text><path d="M329.04 645.12V667.11M334.47 645.12V667.11" stroke="#000" stroke-width="1.40" fill="none"/><path d="M347.72 644.12H364.15M347.72 637.85H364.15" stroke="#000" stroke-width="2.38" fill="none"/><text transform="translate(374.20 649.00) scale(1 1.045)" font-size="33.0">0.5</text></g>
<path d="M180.7 698.20H243.4" fill="none" stroke="#008b00" stroke-width="3.6" stroke-dasharray="3.3 9.1 22.6 9.1"/>
<g><text x="265.3" y="701.60" font-size="33">t</text><path d="M274.47 714.10H288.98M281.72 714.10V699.36" stroke="#000" stroke-width="1.40" fill="none"/><text x="297.2" y="701.60" font-size="33">/</text><text x="316.7" y="701.60" font-size="33">t</text><path d="M329.04 697.72V719.71M334.47 697.72V719.71" stroke="#000" stroke-width="1.40" fill="none"/><path d="M347.72 696.72H364.15M347.72 690.45H364.15" stroke="#000" stroke-width="2.38" fill="none"/><path d="M385.82 701.60L382.85 701.60L382.85 684.94L377.76 684.94L377.76 682.86C380.80 682.72 383.11 681.31 383.94 677.71L385.82 677.71Z" fill="#000"/><text transform="translate(392.55 701.60) scale(1 1.045)" font-size="33.0">.0</text></g>
</svg></body></html>
